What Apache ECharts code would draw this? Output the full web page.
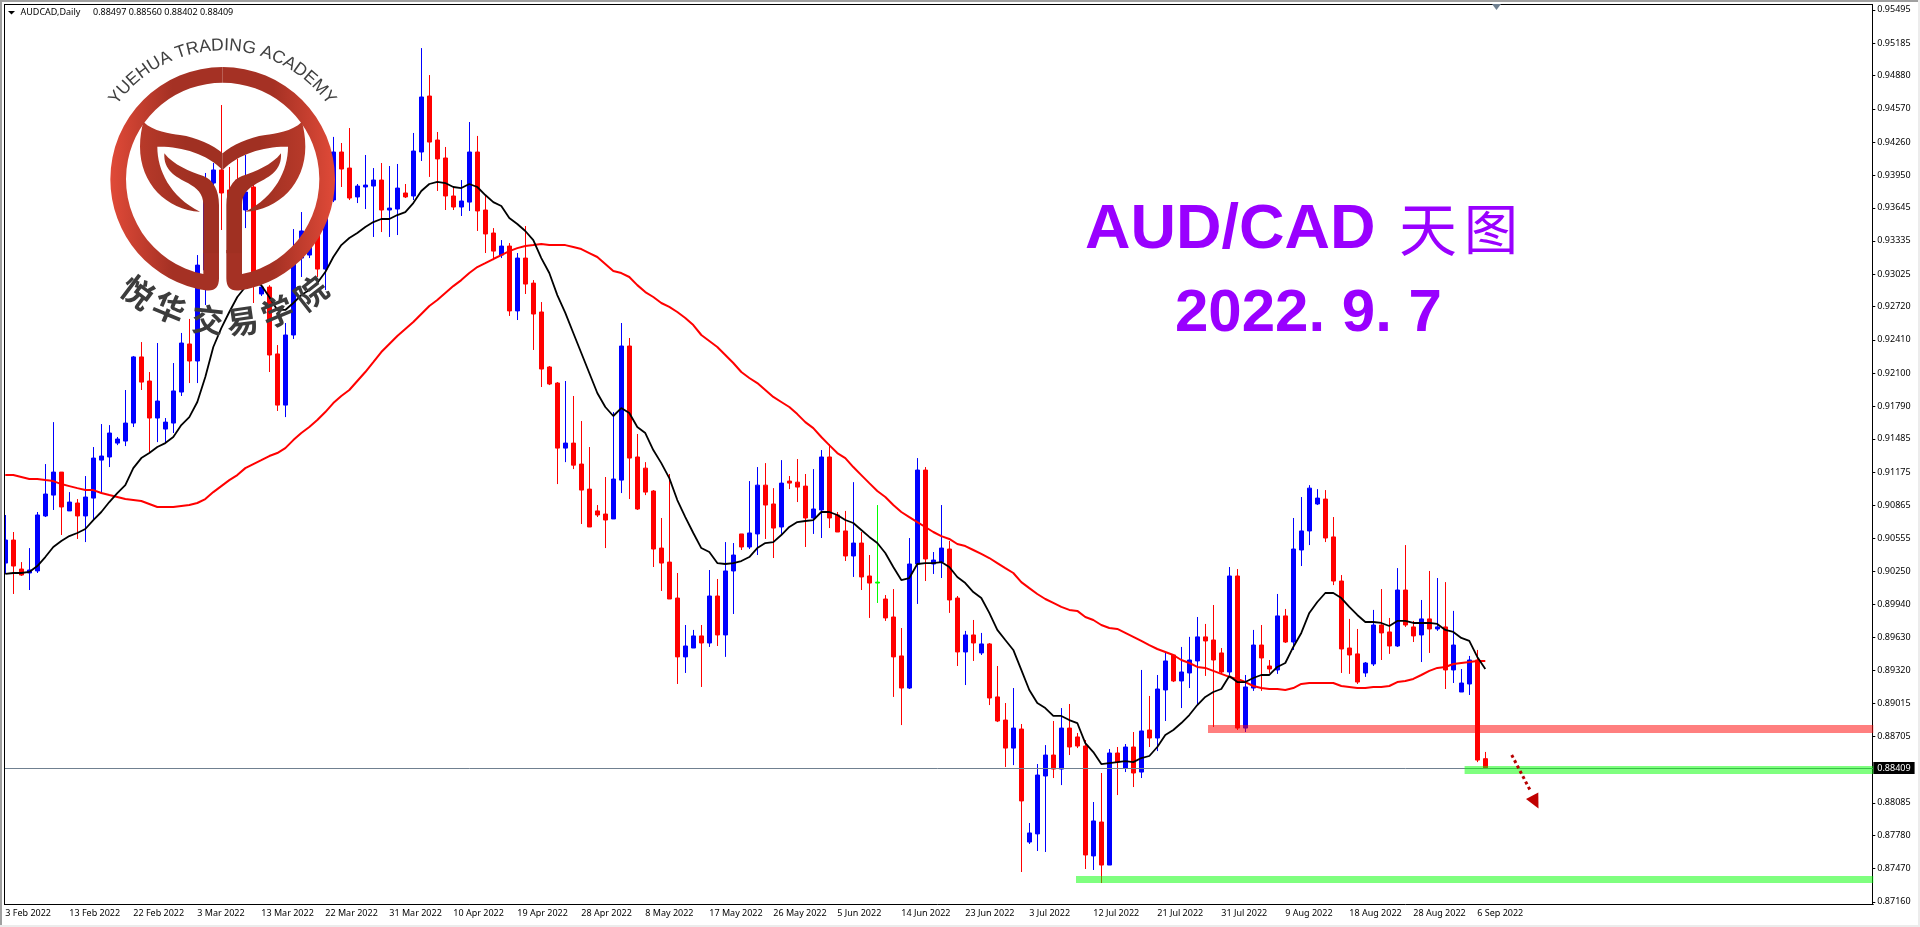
<!DOCTYPE html>
<html><head><meta charset="utf-8"><style>html,body{margin:0;padding:0;background:#fff}#c{width:1920px;height:927px}</style>
<script src="https://cdn.jsdelivr.net/npm/echarts@6/dist/echarts.min.js"></script></head><body><div id="c"></div>
<script>
// All prices are in 1e-5 units (90325 = 0.90325)
const open=[90325,90540,90269,90232,90251,90765,90960,91175,90812,90886,
90765,90932,91287,91316,91446,91465,91633,92251,92026,91680,
91577,91633,91923,92372,92213,93063,93876,93998,93811,93904,
93624,93839,92839,92904,92279,91801,92456,93175,93203,93409,
93072,93717,94166,94016,93746,93839,93848,93904,93624,93633,
93783,93755,94166,94689,94278,94110,93755,93652,93698,94166,
93624,93409,93203,93287,92681,93175,92941,92671,92157,92007,
91399,91446,91250,91016,90812,90783,90737,91100,92353,91316,
91212,90998,90465,90334,89998,89448,89531,89644,89578,90017,
89653,90251,90597,90475,90597,91053,90877,90662,91091,91081,
91044,90746,90821,91316,90774,90625,90391,90512,90204,90147,
89989,89821,89457,89157,90316,91194,90316,90334,90456,89998,
89494,89653,89485,89569,89074,88858,88596,88774,87718,87794,
88335,88531,88400,88783,88700,88615,87588,87905,87503,88550,
88409,88606,88372,88765,88690,89139,89466,89223,89298,89410,
89635,89606,89485,89307,90204,88783,89157,89559,89363,89326,
89831,89587,90447,90625,90877,90923,90569,90157,89531,89476,
89298,89382,89746,89681,89550,90073,89728,89653,89803,89709,
89728,89326,89120,89195,89419,88497];
const close=[90540,90297,90213,90260,90774,90970,91175,90849,90895,90765,
90942,91306,91325,91540,91484,91633,92251,92016,91680,91839,
91642,91933,92381,92213,93109,93717,93998,93783,93437,93624,
93792,93044,92904,92269,91801,92456,93203,93428,93343,93072,
93717,94166,94007,93736,93848,93857,93904,93624,93642,93829,
93746,94175,94680,94259,94101,93755,93652,93708,94166,93615,
93400,93240,93287,92681,93175,92932,92652,92138,91998,91399,
91446,91240,91007,90662,90774,90727,91110,92353,91306,90830,
90988,90456,90325,89989,89448,89550,89644,89578,90017,89653,
90251,90400,90475,90606,91053,90867,90652,91072,91072,91035,
90746,90830,91316,90746,90615,90391,90512,90195,90138,90138,
89812,89448,89157,90316,91194,90363,90353,90465,89980,89494,
89653,89578,89569,89064,88849,88596,88783,88102,87803,88344,
88531,88400,88783,88606,88615,87597,87915,87503,88550,88465,
88606,88363,88756,88690,89148,89410,89223,89307,89419,89635,
89597,89419,89307,90204,88783,89167,89559,89438,89335,89831,
89587,90456,90625,91025,90932,90559,90157,89522,89466,89213,
89391,89746,89672,89550,90073,89746,89644,89803,89709,89728,
89326,89559,89204,89419,88484,88409];
const high=[90774,90615,90334,90465,90802,91250,91642,91175,90988,90923,
91138,91409,91624,91614,91503,91942,92260,92390,92110,92381,
91680,92194,92475,92606,93203,93970,94063,94605,94026,94101,
94138,93951,92922,92922,92362,92568,93446,93605,93381,93483,
93764,94307,94250,94390,93867,94138,94016,94063,94035,94054,
93867,94344,95137,94885,94353,94213,93839,93904,94446,94316,
93764,93455,93343,93315,93222,93474,92969,92764,92166,92016,
92026,91886,91652,91409,90867,91129,91736,92568,92428,91531,
91268,91007,90746,91157,90232,89746,89700,89746,90260,90176,
90521,90512,90597,91091,91222,91259,91025,91287,91138,91297,
91157,91203,91381,91437,90802,90812,91081,90615,90400,90867,
90026,90082,89718,90559,91306,91222,90428,90867,90531,90017,
89691,89793,89672,89578,89363,89017,89157,88821,87896,88447,
88624,88849,88970,89008,88737,88671,88092,88363,88587,88606,
88634,88746,89326,89083,89279,89494,89466,89541,89635,89821,
89756,89933,89531,90288,90269,89279,89700,89746,89419,90036,
89896,90746,90942,91053,91016,91007,90755,90213,89803,89709,
89400,89887,90082,89812,90278,90493,89784,89980,90251,90185,
90147,89878,89335,89457,89513,88560];
const low=[90223,90036,90204,90073,90232,90755,90821,90587,90812,90550,
90521,90727,90979,91222,91427,91418,91596,91942,91353,91455,
91446,91540,91886,92007,92007,92736,93811,93437,93343,93483,
93455,92755,92820,92110,91746,91689,92419,92998,93175,92998,
92876,93698,93839,93717,93689,93633,93372,93418,93372,93390,
93736,93717,94082,93933,93802,93624,93624,93568,93615,93428,
93222,93156,93175,92634,92596,92839,92316,91970,91988,91063,
91268,91203,90690,90662,90755,90465,90737,90979,90923,90821,
90960,90288,90064,89989,89195,89298,89531,89167,89541,89550,
89448,89849,90447,90456,90400,90550,90372,90597,91016,90895,
90475,90597,90559,90652,90615,90344,90195,90073,89812,89952,
89784,89074,88811,89148,89943,90157,90223,90185,89859,89363,
89185,89410,89466,88998,88839,88419,88437,87438,87700,87634,
87625,88316,88250,88531,88596,87466,87457,87335,87503,88157,
88372,88232,88316,88606,88568,88849,89213,88970,89157,88998,
89270,88793,89289,89279,88765,88746,89130,89130,89298,89289,
89578,89513,90297,90493,90867,90521,90119,89298,89289,89195,
89261,89363,89419,89476,89541,89728,89587,89400,89485,89691,
89148,89204,89120,89092,88465,88402];
const maFast=[90223,90232,90232,90242,90297,90381,90475,90531,90577,90606,
90643,90727,90802,90895,90979,91053,91212,91306,91353,91409,
91446,91503,91614,91689,91830,92064,92344,92521,92671,92811,
92904,92951,92922,92811,92690,92690,92755,92829,92876,92941,
93044,93185,93296,93362,93409,93465,93511,93540,93540,93577,
93605,93689,93802,93867,93886,93876,93839,93829,93867,93839,
93764,93698,93661,93549,93493,93428,93343,93175,93035,92829,
92662,92475,92288,92101,91914,91783,91699,91773,91727,91596,
91540,91381,91259,91119,90914,90755,90606,90465,90428,90325,
90316,90325,90344,90381,90465,90512,90521,90587,90662,90708,
90718,90727,90802,90802,90774,90727,90699,90634,90569,90512,
90419,90288,90166,90185,90316,90325,90325,90334,90288,90195,
90138,90054,89998,89859,89700,89606,89513,89326,89139,89017,
88970,88896,88896,88858,88830,88643,88559,88447,88456,88465,
88475,88465,88503,88522,88606,88718,88765,88830,88905,88998,
89074,89120,89148,89270,89213,89213,89251,89279,89279,89354,
89391,89541,89672,89859,89961,90045,90045,89998,89915,89840,
89774,89774,89765,89737,89784,89784,89765,89765,89765,89756,
89700,89681,89625,89597,89448,89335];
const maSlow=[91147,91147,91129,91110,91110,91100,91091,91063,91044,91025,
91007,91007,90979,90960,90942,90923,90914,90905,90877,90849,
90849,90849,90858,90867,90886,90923,90988,91044,91100,91147,
91212,91250,91287,91325,91353,91399,91474,91540,91596,91661,
91736,91820,91886,91942,92026,92110,92203,92297,92372,92447,
92512,92577,92652,92727,92783,92848,92913,92969,93035,93091,
93128,93166,93203,93240,93268,93287,93296,93306,93296,93296,
93296,93278,93259,93222,93185,93120,93054,93035,92998,92922,
92857,92811,92755,92718,92671,92615,92549,92456,92400,92344,
92269,92194,92110,92054,92007,91942,91877,91830,91783,91717,
91642,91586,91503,91427,91353,91306,91222,91147,91072,90998,
90942,90867,90802,90755,90708,90662,90615,90577,90550,90503,
90484,90447,90410,90372,90325,90278,90232,90147,90091,90036,
89989,89952,89915,89887,89878,89821,89793,89746,89718,89709,
89672,89635,89597,89559,89522,89494,89466,89419,89391,89354,
89345,89317,89289,89261,89242,89213,89176,89157,89148,89148,
89139,89157,89195,89204,89204,89204,89204,89176,89167,89157,
89157,89167,89167,89176,89213,89223,89242,89279,89317,89345,
89354,89382,89391,89400,89410,89410];
const dateLabels=['3 Feb 2022','13 Feb 2022','22 Feb 2022','3 Mar 2022','13 Mar 2022','22 Mar 2022','31 Mar 2022','10 Apr 2022','19 Apr 2022','28 Apr 2022','8 May 2022','17 May 2022','26 May 2022','5 Jun 2022','14 Jun 2022','23 Jun 2022','3 Jul 2022','12 Jul 2022','21 Jul 2022','31 Jul 2022','9 Aug 2022','18 Aug 2022','28 Aug 2022','6 Sep 2022'];
const priceTicks=['0.95495','0.95185','0.94880','0.94570','0.94260','0.93950','0.93645','0.93335','0.93025','0.92720','0.92410','0.92100','0.91790','0.91485','0.91175','0.90865','0.90555','0.90250','0.89940','0.89630','0.89320','0.89015','0.88705','0.88085','0.87780','0.87470','0.87160'];
const lastPrice=88409, dojiBar=109, dateStep=8, slotCount=234;
const bandStartBar=[150,134,183], bandTop=[88811,87401,88428], bandBottom=[88737,87335,88354];
const bandColor=['rgba(255,0,0,.5)','rgba(0,255,0,.5)','rgba(0,255,0,.5)'], bandNudge=[2.7,-1.3,-4.7];

const P=v=>v/1e5;
const cats=Array.from({length:slotCount},(_,i)=>'b'+i);
const candle=open.map((o,i)=>{
  const value=[P(o),P(close[i]),P(low[i]),P(high[i])];
  return i===dojiBar?{value,itemStyle:{color:'#00ff00',color0:'#00ff00',borderColor:'#00ff00',borderColor0:'#00ff00'}}:value;
});
const font='"Noto Sans",Tahoma,sans-serif';
const isDateSlot=i=>i%dateStep===0&&i/dateStep<dateLabels.length;

// logo shapes, drawn in a 3x local frame
const C=[428,478], RO=337, RI=290;
const logoParts=[
 ctx=>{const a1=Math.atan2(812-C[1],380-C[0]),a2=Math.atan2(762-C[1],370-C[0]);
   ctx.moveTo(428,141);ctx.arc(C[0],C[1],RO,-Math.PI/2,a1-2*Math.PI,true);
   ctx.quadraticCurveTo(417,815,417,775);ctx.lineTo(417,690);ctx.lineTo(370,690);ctx.lineTo(370,762);
   ctx.arc(C[0],C[1],RI,a2-2*Math.PI,-Math.PI/2,false);ctx.closePath();},
 ctx=>{ctx.moveTo(190,305);ctx.bezierCurveTo(220,335,270,340,300,345);ctx.bezierCurveTo(350,352,400,375,428,400);
   ctx.lineTo(428,450);ctx.bezierCurveTo(380,400,300,378,232,380);ctx.bezierCurveTo(232,450,270,530,360,575);
   ctx.bezierCurveTo(260,570,180,490,180,380);ctx.bezierCurveTo(180,350,185,325,190,305);ctx.closePath();},
 ctx=>{ctx.moveTo(253,400);ctx.bezierCurveTo(280,435,330,455,370,468);ctx.bezierCurveTo(400,480,417,510,417,555);
   ctx.lineTo(417,700);ctx.lineTo(370,700);ctx.lineTo(370,555);ctx.bezierCurveTo(370,520,350,505,325,490);
   ctx.bezierCurveTo(285,470,250,450,253,400);ctx.closePath();}
];
logoParts.forEach((fn,i)=>echarts.graphic.registerShape('logoPart'+i,echarts.graphic.extendShape({shape:{},buildPath:(ctx)=>fn(ctx)})));

// decoration -------------------------------------------------------------
const G=[];
const rect=(x,y,w,h,fill,z=100)=>G.push({type:'rect',silent:true,z,shape:{x,y,width:w,height:h},style:{fill}});
const txt=(text,x,y,f,fill,align='left',rot=0,z=120)=>G.push({type:'text',silent:true,z,x,y,rotation:rot,style:{text,font:f,fill,textAlign:align,textVerticalAlign:'middle',align,verticalAlign:'middle'}});
const poly=(pts,fill)=>G.push({type:'polygon',silent:true,z:110,shape:{points:pts},style:{fill}});
rect(0,0,4,927,'#fff',90); rect(0,0,1920,4,'#fff',90);
rect(0,0,1920,2,'#a0a0a0'); rect(0,0,2,927,'#a0a0a0');
rect(0,925,1920,2,'#ececec'); rect(1918,0,2,927,'#ececec');
rect(4,4,1,900,'#000'); rect(4,4,1868,1,'#000');
poly([[8,11],[15,11],[11.5,14.5]],'#000');
txt('AUDCAD,Daily',20.5,12.5,'9px '+font,'#000');
txt('0.88497 0.88560 0.88402 0.88409',93,12.5,'9px '+font,'#000');
poly([[1492,4],[1501,4],[1496.5,10]],'#708090');
// big titles
txt('AUD/CAD',1085,231,'bold 63px "Liberation Sans"','#9900ff');
txt('天',1428,229,'58px "Noto Sans CJK SC"','#9900ff','center');
txt('图',1491,229,'54px "Noto Sans CJK SC"','#9900ff','center');
txt('2022. 9. 7',1175,314,'bold 60px "Liberation Sans"','#9900ff');
// arrow
G.push({type:'polyline',silent:true,z:110,shape:{points:[[1511.7,755],[1530,790]]},style:{stroke:'#b80000',lineWidth:3,lineDash:[3,3],fill:null}});
poly([[1526,799],[1538.3,792.5],[1538.5,808.5]],'#c00000');
// logo
const grad=(a,b)=>({type:'linear',x:0,y:0,x2:1,y2:0,colorStops:[{offset:0,color:a},{offset:.55,color:b},{offset:1,color:b}]});
[['#e04a38','#a53124'],['#b83a2a','#a03022'],['#a83324','#a03022']].forEach(([a,b],i)=>{
  G.push({type:'logoPart'+i,silent:true,z:105,x:80,y:20,scaleX:1/3,scaleY:1/3,style:{fill:grad(a,b)}});
  G.push({type:'logoPart'+i,silent:true,z:105,x:80+856/3,y:20,scaleX:-1/3,scaleY:1/3,style:{fill:grad(a,b)}});
});
// arc lettering
const cx=222.5, cy=179.5;
(function(){
  const s='YUEHUA TRADING ACADEMY', f='17.5px "Liberation Sans"';
  const m=document.createElement('canvas').getContext('2d'); m.font=f;
  const w=[...s].map(c=>m.measureText(c).width), tot=w.reduce((a,b)=>a+b,0);
  const R=128, span=110*Math.PI/180, k=span/tot; let a=-span/2;
  [...s].forEach((c,i)=>{const t=a+w[i]*k/2; a+=w[i]*k;
    txt(c,cx+(R+6)*Math.sin(t),cy-(R+6)*Math.cos(t),f,'#404040','center',-t);});
})();
[['悦',37,141],['华',22.5,139],['交',6,141],['易',-8,143],['学',-22.6,143],['院',-38,144]].forEach(([c,d,r])=>{
  const t=d*Math.PI/180;
  txt(c,cx+r*Math.sin(-t),cy+r*Math.cos(t),'bold 32px "Noto Sans CJK SC"','#3c3c3c','center',-t);
});

const chart=echarts.init(document.getElementById('c'),null,{renderer:'canvas'});
chart.setOption({
  animation:false,backgroundColor:'#fff',
  grid:{left:1.3,top:4,width:1872,height:900,containLabel:false},
  xAxis:{type:'category',data:cats,boundaryGap:true,
    axisLine:{lineStyle:{color:'#000',width:1}},
    axisTick:{alignWithLabel:true,length:3,interval:i=>isDateSlot(i),lineStyle:{color:'#000'}},
    axisLabel:{interval:i=>isDateSlot(i),align:'left',margin:5,fontFamily:font,fontSize:9,color:'#000',hideOverlap:false,
      formatter:(v,i)=>isDateSlot(i)?dateLabels[i/dateStep]:''},
    splitLine:{show:false}},
  yAxis:{type:'value',position:'right',offset:-1,min:P(87139),max:P(95549),scale:true,
    axisLine:{show:true,onZero:false,lineStyle:{color:'#000',width:1}},
    axisTick:{show:true,length:3,lineStyle:{color:'#000'},customValues:priceTicks.map(Number)},
    axisLabel:{margin:5,fontFamily:font,fontSize:9,color:'#000',customValues:priceTicks.map(Number),formatter:v=>v.toFixed(5)},
    splitLine:{show:false}},
  graphic:{elements:G},
  series:[
    {type:'candlestick',data:candle,barWidth:4,silent:true,z:2,
      itemStyle:{color:'#0000ff',color0:'#ff0000',borderColor:'#0000ff',borderColor0:'#ff0000',borderWidth:1}},
    {type:'line',data:maSlow.map(P),showSymbol:false,silent:true,z:4,lineStyle:{color:'#ff0000',width:2},
      markLine:{silent:true,symbol:'none',animation:false,z:3,precision:5,
        data:[{yAxis:P(lastPrice)}],
        lineStyle:{color:'#708090',width:1,type:'solid'},
        label:{show:true,position:'end',distance:0,formatter:()=>(lastPrice/1e5).toFixed(5),color:'#fff',backgroundColor:'#000',fontFamily:font,fontSize:9,padding:[2,4,1,4]}}},
    {type:'line',data:maFast.map(P),showSymbol:false,silent:true,z:5,lineStyle:{color:'#000',width:1.8}},
    {type:'custom',silent:true,z:6,clip:true,encode:{x:0,y:1},
      data:bandStartBar.map((b,i)=>[b,P(bandTop[i]),P(bandBottom[i]),i]),
      renderItem:(params,api)=>{
        const i=api.value(3),a=api.coord([api.value(0),api.value(1)]),b=api.coord([api.value(0),api.value(2)]);
        const x=a[0]+bandNudge[i],r=params.coordSys.x+params.coordSys.width;
        return {type:'rect',shape:{x,y:a[1],width:r-x,height:b[1]-a[1]},style:{fill:bandColor[i]}};
      }}
  ]
});
</script></body></html>
